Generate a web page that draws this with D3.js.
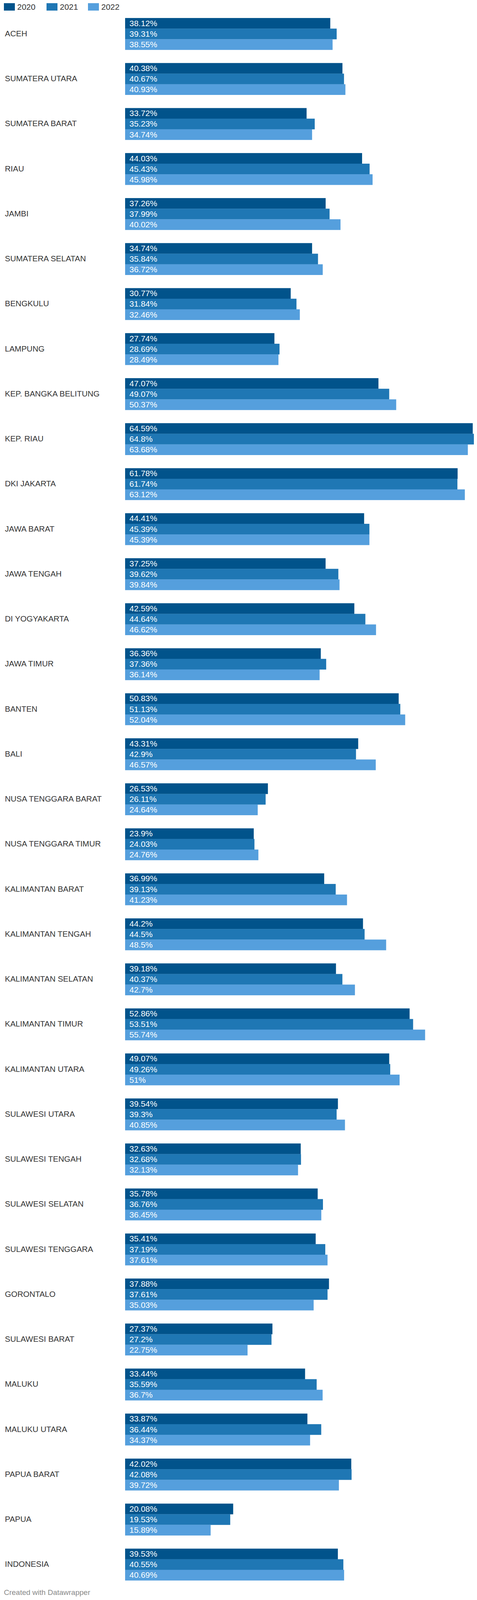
<!DOCTYPE html>
<html>
<head>
<meta charset="utf-8">
<script src="https://cdn.jsdelivr.net/npm/d3@7"></script>
<style>
  html, body { margin: 0; padding: 0; background: #fff; overflow: hidden; }
  svg { display: block; font-family: "Liberation Sans", Arial, Helvetica, sans-serif; }
</style>
</head>
<body>
<svg id="chart"></svg>
<script>
const categories = [
  "ACEH", "SUMATERA UTARA", "SUMATERA BARAT", "RIAU", "JAMBI", "SUMATERA SELATAN",
  "BENGKULU", "LAMPUNG", "KEP. BANGKA BELITUNG", "KEP. RIAU", "DKI JAKARTA",
  "JAWA BARAT", "JAWA TENGAH", "DI YOGYAKARTA", "JAWA TIMUR", "BANTEN", "BALI",
  "NUSA TENGGARA BARAT", "NUSA TENGGARA TIMUR", "KALIMANTAN BARAT",
  "KALIMANTAN TENGAH", "KALIMANTAN SELATAN", "KALIMANTAN TIMUR", "KALIMANTAN UTARA",
  "SULAWESI UTARA", "SULAWESI TENGAH", "SULAWESI SELATAN", "SULAWESI TENGGARA",
  "GORONTALO", "SULAWESI BARAT", "MALUKU", "MALUKU UTARA", "PAPUA BARAT", "PAPUA",
  "INDONESIA"
];
const years = ["2020", "2021", "2022"];
const values2020 = [38.12, 40.38, 33.72, 44.03, 37.26, 34.74, 30.77, 27.74, 47.07, 64.59, 61.78,
  44.41, 37.25, 42.59, 36.36, 50.83, 43.31, 26.53, 23.9, 36.99, 44.2, 39.18, 52.86, 49.07,
  39.54, 32.63, 35.78, 35.41, 37.88, 27.37, 33.44, 33.87, 42.02, 20.08, 39.53];
const values2021 = [39.31, 40.67, 35.23, 45.43, 37.99, 35.84, 31.84, 28.69, 49.07, 64.8, 61.74,
  45.39, 39.62, 44.64, 37.36, 51.13, 42.9, 26.11, 24.03, 39.13, 44.5, 40.37, 53.51, 49.26,
  39.3, 32.68, 36.76, 37.19, 37.61, 27.2, 35.59, 36.44, 42.08, 19.53, 40.55];
const values2022 = [38.55, 40.93, 34.74, 45.98, 40.02, 36.72, 32.46, 28.49, 50.37, 63.68, 63.12,
  45.39, 39.84, 46.62, 36.14, 52.04, 46.57, 24.64, 24.76, 41.23, 48.5, 42.7, 55.74, 51,
  40.85, 32.13, 36.45, 37.61, 35.03, 22.75, 36.7, 34.37, 39.72, 15.89, 40.69];
const colors = ["#01538b", "#1f77b4", "#559fdd"];
const footerText = "Created with Datawrapper";

const series = [values2020, values2021, values2022];
const rows = categories.map((c, i) => ({
  name: c,
  vals: years.map((y, j) => ({ year: y, value: series[j][i] }))
}));

// Fit the full 6042px-tall design into the real viewport height (the browser clamps it).
const W = 1220, H = 6042;
const ky = Math.min(1, (window.innerHeight || H) / H);
const fs = ky < 1 ? 21 : 24;       // label font size
const fsLabel = ky < 1 ? 20.5 : 23.5;

const svg = d3.select("#chart").attr("width", W).attr("height", Math.floor(H * ky));

const maxVal = d3.max(series.flat());
const x = d3.scaleLinear().domain([0, maxVal]).range([320, 1212]);
const y = d3.scaleBand().domain(categories).range([68 * ky, (68 + 5900) * ky])
  .paddingInner(50 / 170).paddingOuter(0).align(0);
const yi = d3.scaleBand().domain(years).range([0, y.bandwidth()]).padding(0);
const color = d3.scaleOrdinal().domain(years).range(colors);

// Legend
const legendX = [10, 119, 225];
const sqTop = 12 * ky, sqH = 28 * ky;
const lg = svg.append("g");
years.forEach((yr, i) => {
  lg.append("rect").attr("x", legendX[i]).attr("y", sqTop).attr("width", 28).attr("height", sqH)
    .attr("fill", color(yr));
  lg.append("text").attr("x", legendX[i] + 34).attr("y", sqTop + sqH / 2 + fs * 0.36)
    .attr("font-size", fs).attr("fill", "#333").text(yr);
});

// Groups
const g = svg.append("g").selectAll("g.row").data(rows).join("g")
  .attr("class", "row")
  .attr("transform", d => `translate(0,${y(d.name)})`);

g.append("text")
  .attr("x", 12.5)
  .attr("y", y.bandwidth() / 2 + fsLabel * 0.3)
  .attr("font-size", fsLabel)
  .attr("fill", "#333")
  .text(d => d.name);

g.selectAll("rect").data(d => d.vals).join("rect")
  .attr("x", x(0))
  .attr("y", d => yi(d.year))
  .attr("width", d => x(d.value) - x(0))
  .attr("height", yi.bandwidth() + 0.3)
  .attr("fill", d => color(d.year));

g.selectAll("text.val").data(d => d.vals).join("text")
  .attr("class", "val")
  .attr("x", x(0) + 11)
  .attr("y", d => yi(d.year) + yi.bandwidth() / 2 + fs * 0.34)
  .attr("font-size", fs)
  .attr("fill", "#fff")
  .text(d => d.value + "%");

// Footer
svg.append("text").attr("x", 10).attr("y", 6026 * ky - (ky < 1 ? 2 : 0))
  .attr("font-size", ky < 1 ? 19 : 22)
  .attr("fill", "#888").text(footerText);
</script>
</body>
</html>
